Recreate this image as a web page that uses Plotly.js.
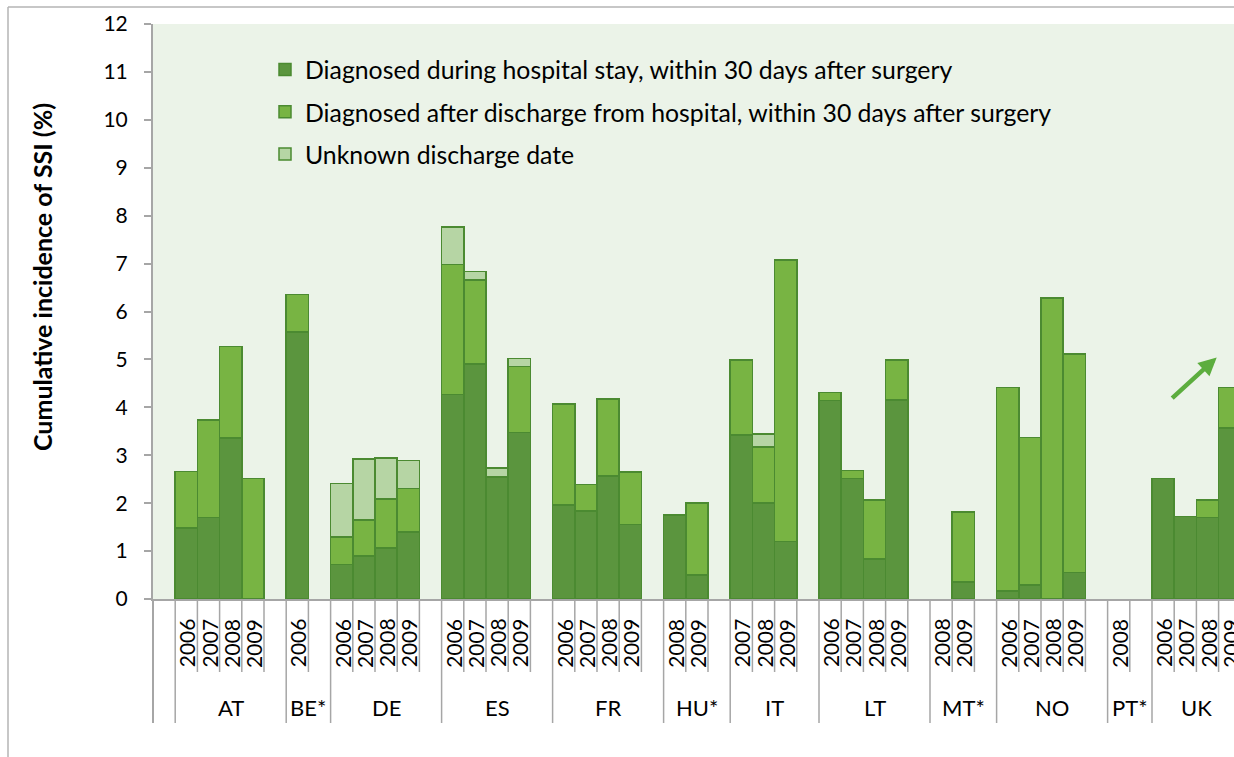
<!DOCTYPE html>
<html>
<head>
<meta charset="utf-8">
<script src="https://cdn.plot.ly/plotly-3.0.1.min.js"></script>
<style>
html,body{margin:0;padding:0;background:#fff;}
#chart{width:1234px;height:757px;}
</style>
</head>
<body>
<div id="chart"></div>
<script>
// ---------------- data ----------------
const country = ['AT','AT','AT','AT','BE*','DE','DE','DE','DE','ES','ES','ES','ES','FR','FR','FR','FR','HU*','HU*','IT','IT','IT','LT','LT','LT','LT','MT*','MT*','NO','NO','NO','NO','PT*','UK','UK','UK','UK'];
const year    = ['2006','2007','2008','2009','2006','2006','2007','2008','2009','2006','2007','2008','2009','2006','2007','2008','2009','2008','2009','2007','2008','2009','2006','2007','2008','2009','2008','2009','2006','2007','2008','2009','2008','2006','2007','2008','2009'];
const during  = [1.48,1.70,3.36,0,   5.57, 0.72,0.90,1.06,1.40, 4.27,4.90,2.55,3.47, 1.96,1.84,2.57,1.56, 1.75,0.50, 3.42,2.00,1.20, 4.14,2.51,0.83,4.15, 0,0.36, 0.17,0.29,0,0.55, 0, 2.51,1.72,1.70,3.57];
const after   = [1.18,2.04,1.91,2.52,0.79, 0.57,0.75,1.03,0.91, 2.71,1.76,0,1.38,    2.11,0.55,1.60,1.09, 0,1.50,    1.57,1.17,5.87, 0.17,0.17,1.24,0.84, 0,1.46,    4.24,3.08,6.28,4.56, 0, 0,0,0.37,0.84];
const unknown = [0,0,0,0,            0,    1.12,1.27,0.85,0.58, 0.78,0.18,0.18,0.17, 0,0,0,0,             0,0,       0,0.27,0,        0,0,0,0,              0,0,       0,0,0,0,              0, 0,0,0,0];
const seriesNames = [
  'Diagnosed during hospital stay, within 30 days after surgery',
  'Diagnosed after discharge from hospital, within 30 days after surgery',
  'Unknown discharge date'
];
const yTitle = 'Cumulative incidence of SSI (%)';

// ---------------- style ----------------
const FONT = 'Lato, "Open Sans", sans-serif';
const C_DARK = '#5b953e', C_MED = '#78b443', C_LIGHT = '#b6d5a4', OUTLINE = '#4b8a31';
const AX = '#a6a6a6';
const W = 1234, H = 757, ML = 153, MT = 24, MB = 158;
const plotH = H - MT - MB;
const SLOT_PX = 22.2;
const xMax = -0.5 + (W - ML) / SLOT_PX;
const py = p => (H - MB - p) / plotH;      // pixel y -> paper y
const pxp = p => (p - ML) / (W - ML);       // pixel x -> paper x

// slot positions: a blank slot before the first group and after each group
const xs = [];
let s = 0;
for (let i = 0; i < country.length; i++) {
  s += (i > 0 && country[i] !== country[i - 1]) ? 2 : 1;
  xs.push(s);
}
const lastSlot = xs[xs.length - 1];

// groups
const groups = [];
country.forEach((c, i) => {
  if (i === 0 || c !== country[i - 1]) groups.push({name: c, first: xs[i], last: xs[i]});
  else groups[groups.length - 1].last = xs[i];
});

const mk = (y, name, color, grp) => ({
  type: 'bar', x: xs, y: y.map(v => v === 0 ? null : v), name: name, width: 1, legendgroup: grp,
  marker: {color: color, line: {color: OUTLINE, width: 1.5}},
  hoverinfo: 'skip'
});
const traces = [
  mk(during, seriesNames[0], C_DARK, 'g1'),
  mk(after, seriesNames[1], C_MED, 'g2'),
  mk(unknown, seriesNames[2], C_LIGHT, 'g3')
];

// ---------------- separators & labels ----------------
const shapes = [];
const annotations = [];
const yearBottom = py(672), groupBottom = py(723);
for (let i = 1; i <= lastSlot + 1; i++) {
  shapes.push({type: 'line', xref: 'x', yref: 'paper', x0: i - 0.5, x1: i - 0.5, y0: 0, y1: yearBottom, line: {color: AX, width: 1.5}});
}
// left edge (group boundary at slot 0)
shapes.push({type: 'line', xref: 'paper', yref: 'paper', x0: 0, x1: 0, y0: 0, y1: groupBottom, line: {color: AX, width: 2}});
groups.forEach((g, gi) => {
  shapes.push({type: 'line', xref: 'x', yref: 'paper', x0: g.first - 0.5, x1: g.first - 0.5, y0: yearBottom, y1: groupBottom, line: {color: AX, width: 1.5}});
  const end = (gi < groups.length - 1) ? g.last + 1.5 : g.last + 0.5;
  annotations.push({xref: 'x', yref: 'paper', x: (g.first - 0.5 + end) / 2, y: py(707), text: g.name, showarrow: false,
    xanchor: 'center', yanchor: 'middle', font: {family: FONT, size: 22, color: '#000'}});
});
xs.forEach((x, i) => {
  annotations.push({xref: 'x', yref: 'paper', x: x, y: py(643), text: year[i], showarrow: false, textangle: -90,
    xanchor: 'center', yanchor: 'middle', font: {family: FONT, size: 21, color: '#000'}});
});
// y title
annotations.push({xref: 'paper', yref: 'paper', x: pxp(42), y: py(277), text: '<b>' + yTitle + '</b>', showarrow: false,
  textangle: -90, xanchor: 'center', yanchor: 'middle', font: {family: FONT, size: 25, color: '#000'}});
// arrow
annotations.push({xref: 'x', yref: 'y', x: (1216.7 - ML) / SLOT_PX - 0.5, y: 5.04, ax: -46, ay: 42, text: '',
  showarrow: true, arrowhead: 2, arrowsize: 0.8, arrowwidth: 4.5, arrowcolor: '#5cad3e'});
// outer chart border
shapes.push({type: 'line', xref: 'paper', yref: 'paper', x0: pxp(8), x1: pxp(8), y0: py(7), y1: py(770), line: {color: '#b5b5b5', width: 1.5}});
shapes.push({type: 'line', xref: 'paper', yref: 'paper', x0: pxp(8), x1: pxp(1250), y0: py(7), y1: py(7), line: {color: '#b5b5b5', width: 1.5}});

const layout = {
  width: W, height: H,
  margin: {l: ML, r: 0, t: MT, b: MB, pad: 0},
  paper_bgcolor: '#ffffff', plot_bgcolor: '#ebf3e8',
  barmode: 'stack', bargap: 0,
  font: {family: FONT, color: '#000'},
  showlegend: true,
  legend: {x: pxp(265), xanchor: 'left', y: py(47), yanchor: 'top', bgcolor: 'rgba(0,0,0,0)',
    font: {family: FONT, size: 24.8, color: '#000'}, traceorder: 'grouped', tracegroupgap: 7, itemclick: false, itemdoubleclick: false},
  xaxis: {range: [-0.5, xMax], showgrid: false, zeroline: false, showticklabels: false, ticks: '',
    showline: true, linecolor: AX, linewidth: 2, fixedrange: true},
  yaxis: {range: [0, 12], tick0: 0, dtick: 1, ticks: 'outside', ticklen: 7, tickwidth: 2, tickcolor: AX,
    showline: true, linecolor: AX, linewidth: 2, showgrid: false, zeroline: false, fixedrange: true,
    tickfont: {family: FONT, size: 21, color: '#000'}, ticklabelstandoff: 12},
  shapes: shapes,
  annotations: annotations
};

Plotly.newPlot('chart', traces, layout, {displayModeBar: false, staticPlot: true});
</script>
</body>
</html>
